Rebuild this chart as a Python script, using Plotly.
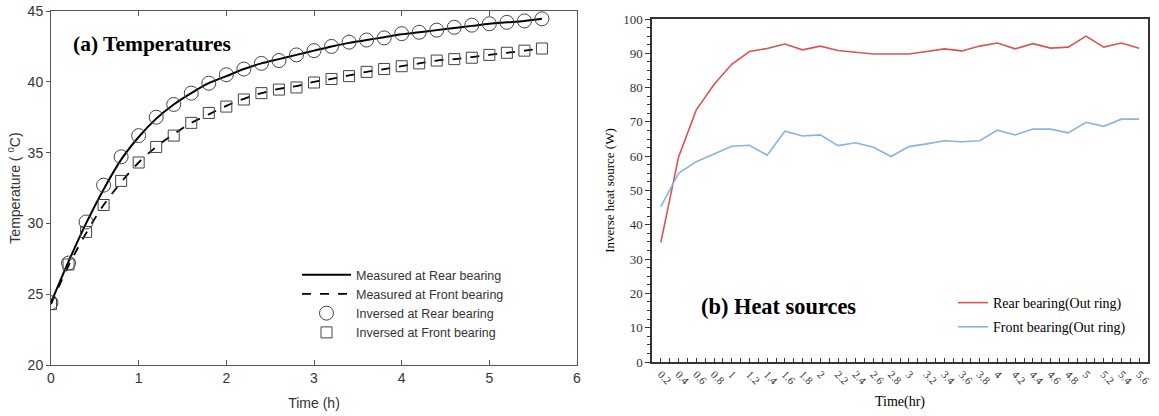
import plotly.graph_objects as go

# ---------------- (a) Temperatures ----------------
time_a = [0.0, 0.2, 0.4, 0.6, 0.8, 1.0, 1.2, 1.4, 1.6, 1.8, 2.0, 2.2, 2.4, 2.6, 2.8,
          3.0, 3.2, 3.4, 3.6, 3.8, 4.0, 4.2, 4.4, 4.6, 4.8, 5.0, 5.2, 5.4, 5.6]
measured_rear = [24.4, 27.3, 30.0, 32.4, 34.5, 36.1, 37.4, 38.4, 39.2, 39.9, 40.4, 40.9, 41.3,
                 41.6, 41.9, 42.2, 42.5, 42.75, 42.95, 43.15, 43.35, 43.5, 43.65, 43.8, 43.95,
                 44.1, 44.2, 44.3, 44.45]
measured_front = [24.3, 27.0, 29.3, 31.3, 32.9, 34.3, 35.4, 36.3, 37.1, 37.7, 38.3, 38.8, 39.2,
                  39.5, 39.7, 40.0, 40.2, 40.45, 40.7, 40.9, 41.1, 41.3, 41.5, 41.6, 41.75,
                  41.9, 42.05, 42.2, 42.35]
inversed_rear = [24.4, 27.2, 30.1, 32.7, 34.7, 36.2, 37.5, 38.4, 39.2, 39.9, 40.5, 40.9, 41.3,
                 41.5, 41.9, 42.2, 42.5, 42.8, 42.95, 43.1, 43.4, 43.5, 43.65, 43.85, 44.0,
                 44.1, 44.2, 44.3, 44.45]
inversed_front = [24.3, 27.1, 29.4, 31.3, 33.0, 34.3, 35.4, 36.2, 37.1, 37.8, 38.25, 38.75, 39.2,
                  39.45, 39.6, 39.95, 40.2, 40.4, 40.7, 40.9, 41.1, 41.3, 41.5, 41.6, 41.7,
                  41.9, 42.05, 42.2, 42.35]

# ---------------- (b) Heat sources ----------------
time_b = [0.2, 0.4, 0.6, 0.8, 1.0, 1.2, 1.4, 1.6, 1.8, 2.0, 2.2, 2.4, 2.6, 2.8,
          3.0, 3.2, 3.4, 3.6, 3.8, 4.0, 4.2, 4.4, 4.6, 4.8, 5.0, 5.2, 5.4, 5.6]
time_b_labels = ["0.2", "0.4", "0.6", "0.8", "1", "1.2", "1.4", "1.6", "1.8", "2",
                 "2.2", "2.4", "2.6", "2.8", "3", "3.2", "3.4", "3.6", "3.8", "4",
                 "4.2", "4.4", "4.6", "4.8", "5", "5.2", "5.4", "5.6"]
rear_heat = [34.9, 59.8, 73.5, 80.9, 86.8, 90.5, 91.4, 92.7, 91.0, 92.1, 90.8, 90.4, 89.8, 89.8,
             89.8, 90.5, 91.3, 90.7, 92.1, 93.0, 91.3, 92.8, 91.5, 91.8, 95.0, 91.8, 93.0, 91.5]
front_heat = [45.3, 55.0, 58.4, 60.6, 62.9, 63.2, 60.3, 67.3, 65.9, 66.2, 63.1, 63.9, 62.6, 59.9,
              62.8, 63.6, 64.5, 64.2, 64.5, 67.6, 66.2, 67.9, 67.9, 66.8, 69.9, 68.7, 70.8, 70.8]

W, H = 1159, 416
def px_x(p):
    return p / W
def px_y(p):
    return (H - p) / H

dark = "#333333"
sans = "Liberation Sans, Arial, sans-serif"
serif = "Liberation Serif, Times New Roman, serif"

fig = go.Figure()

fig.add_trace(go.Scatter(x=time_a, y=measured_rear, mode="lines", line=dict(color="black", width=2, shape="spline"),
                         name="Measured at Rear bearing", xaxis="x", yaxis="y", legend="legend"))
fig.add_trace(go.Scatter(x=time_a, y=measured_front, mode="lines",
                         line=dict(color="black", width=1.8, dash="dash", shape="spline"),
                         name="Measured at Front bearing", xaxis="x", yaxis="y", legend="legend"))
fig.add_trace(go.Scatter(x=time_a, y=inversed_rear, mode="markers",
                         marker=dict(symbol="circle-open", size=14, color="#444444", line=dict(width=1)),
                         name="Inversed at Rear bearing", xaxis="x", yaxis="y", legend="legend"))
fig.add_trace(go.Scatter(x=time_a, y=inversed_front, mode="markers",
                         marker=dict(symbol="square-open", size=11, color="#444444", line=dict(width=1)),
                         name="Inversed at Front bearing", xaxis="x", yaxis="y", legend="legend"))

fig.add_trace(go.Scatter(x=time_b, y=rear_heat, mode="lines", line=dict(color="#d65454", width=1.6),
                         name="Rear bearing(Out ring)", xaxis="x2", yaxis="y2", legend="legend2",
                         legendgroup="r"))
fig.add_trace(go.Scatter(x=time_b, y=front_heat, mode="lines", line=dict(color="#84b5e4", width=1.6),
                         name="Front bearing(Out ring)", xaxis="x2", yaxis="y2", legend="legend2",
                         legendgroup="f"))

fig.update_layout(
    width=W, height=H,
    margin=dict(l=0, r=0, t=0, b=0, autoexpand=False),
    paper_bgcolor="white", plot_bgcolor="white",
    showlegend=True,
    xaxis=dict(domain=[px_x(51), px_x(577)], range=[0, 6], dtick=1, tick0=0, automargin=False,
               ticks="inside", ticklen=5, tickcolor="#555", showline=True, linecolor="#555",
               linewidth=1, mirror="ticks", showgrid=False, zeroline=False,
               tickfont=dict(family=sans, size=14, color=dark),
               title=dict(text="Time (h)", font=dict(family=sans, size=14, color=dark), standoff=13),
               anchor="y"),
    yaxis=dict(domain=[px_y(365), px_y(11)], range=[20, 45], dtick=5, automargin=False,
               ticks="outside", ticklen=4, tickcolor="#555", showline=True, linecolor="#555",
               linewidth=1, mirror=True, showgrid=False, zeroline=False,
               tickfont=dict(family=sans, size=14, color=dark),
               title=dict(text="Temperature ( <sup>0</sup>C)", font=dict(family=sans, size=14, color=dark),
                          standoff=3),
               anchor="x"),
    xaxis2=dict(domain=[px_x(652), px_x(1148)], range=[0.1, 5.7], automargin=False,
                tickmode="array", tickvals=time_b, ticktext=time_b_labels, tickangle=45,
                ticks="inside", ticklen=4, tickcolor="#333", showline=True, linecolor="#333",
                linewidth=1.5, mirror=True, showgrid=False, zeroline=False,
                minor=dict(ticks="inside", ticklen=4, dtick=0.1, tick0=0.1, tickcolor="#333", showgrid=False),
                tickfont=dict(family=serif, size=11, color=dark),
                title=dict(text="Time(hr)", font=dict(family=serif, size=14, color="black"), standoff=10),
                anchor="y2"),
    yaxis2=dict(domain=[px_y(362), px_y(19)], range=[0, 100], dtick=10, automargin=False,
                ticks="outside", ticklen=5, tickcolor="#333", showline=True, linecolor="#333",
                linewidth=1.5, mirror=True, showgrid=False, zeroline=False,
                minor=dict(ticks="outside", ticklen=3, dtick=2.5, tickcolor="#333", showgrid=False),
                tickfont=dict(family=serif, size=13, color=dark),
                title=dict(text="Inverse heat source (W)", font=dict(family=serif, size=13, color="black"),
                           standoff=6),
                anchor="x2"),
    legend=dict(x=px_x(297), y=px_y(260), xanchor="left", yanchor="top",
                bgcolor="rgba(0,0,0,0)", borderwidth=0, tracegroupgap=0,
                font=dict(family=sans, size=12.5, color=dark), itemwidth=49),
    legend2=dict(x=px_x(953), y=px_y(287), xanchor="left", yanchor="top",
                 bgcolor="rgba(0,0,0,0)", borderwidth=0, tracegroupgap=3,
                 font=dict(family=serif, size=14, color="black"), itemwidth=30),
    annotations=[
        dict(text="<b>(a) Temperatures</b>", x=px_x(71), y=px_y(44), xref="paper", yref="paper",
             xanchor="left", yanchor="middle", showarrow=False,
             font=dict(family=serif, size=21.5, color="black")),
        dict(text="<b>(b) Heat sources</b>", x=px_x(699), y=px_y(306), xref="paper", yref="paper",
             xanchor="left", yanchor="middle", showarrow=False,
             font=dict(family=serif, size=22.4, color="black")),
    ],
)

fig.write_html("out.html", config={"displayModeBar": False},
               post_script="document.body.style.margin='0';")
